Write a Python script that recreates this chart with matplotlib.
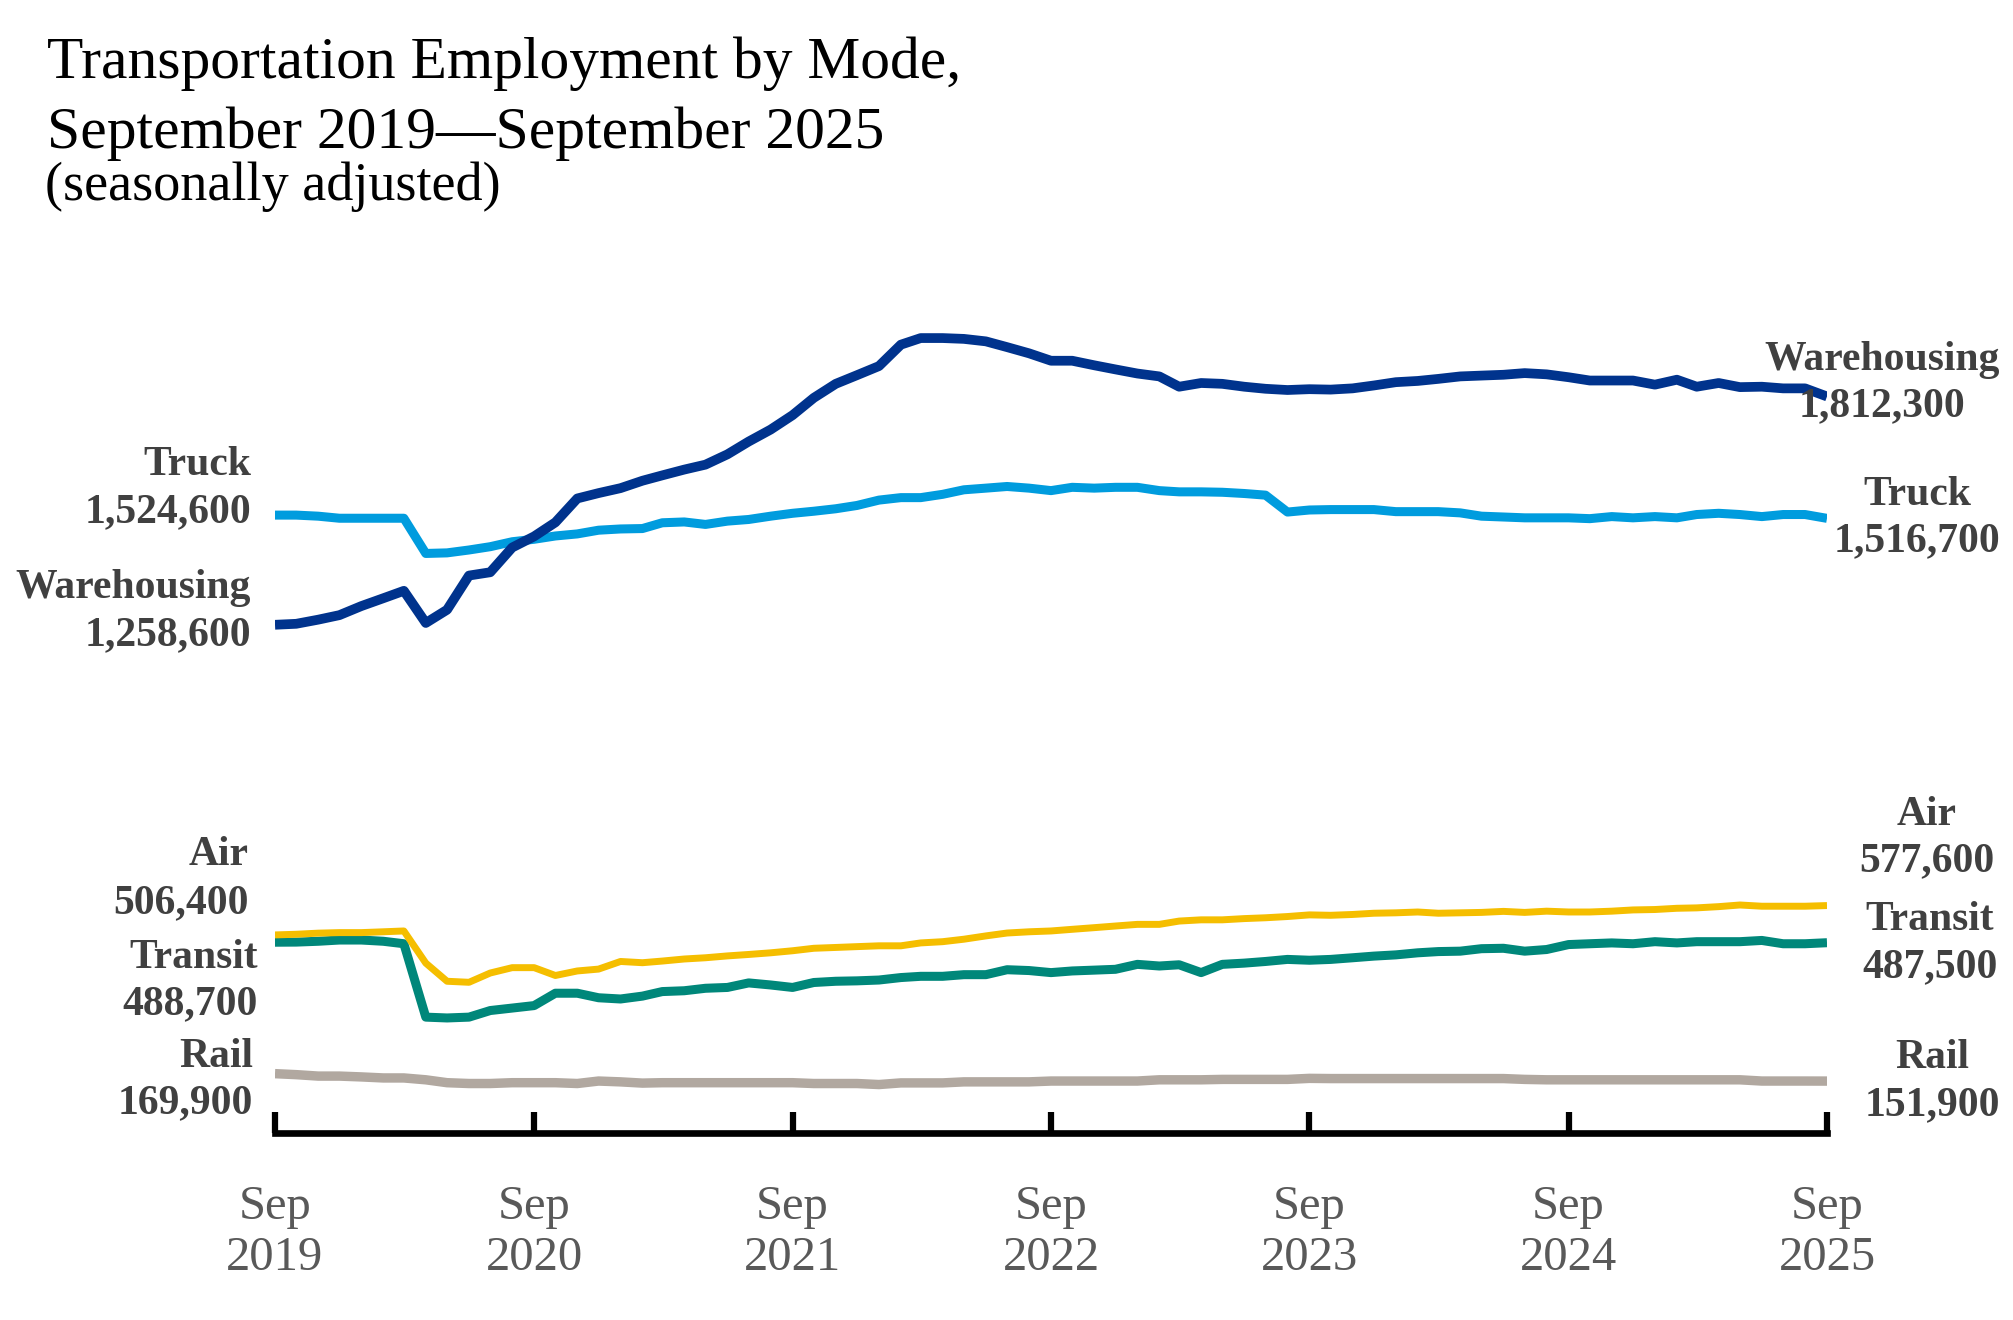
import numpy as np
import pandas as pd
import matplotlib
matplotlib.use("Agg")
import matplotlib.pyplot as plt
import matplotlib.dates as mdates

plt.rcParams['font.family'] = ['Liberation Serif', 'DejaVu Serif']

# monthly employment, thousands, Sep 2019 .. Sep 2025 (seasonally adjusted)
months = pd.date_range("2019-09-01", "2025-09-01", freq="MS")

warehousing = [1258.6, 1261, 1271, 1282, 1304, 1323, 1341, 1263, 1295, 1378, 1386, 1446, 1473,
               1507, 1565, 1578, 1590, 1608, 1621, 1635, 1647, 1672, 1703, 1732, 1767,
               1809, 1843, 1864, 1886, 1938, 1954, 1954, 1952, 1946, 1932, 1917, 1899,
               1899, 1888, 1878, 1868, 1861, 1836, 1845, 1843, 1836, 1831, 1828, 1830,
               1829, 1832, 1839, 1847, 1850, 1855, 1861, 1863, 1865, 1869, 1866, 1859,
               1851, 1851, 1851, 1841, 1853, 1836, 1845, 1835, 1836, 1832, 1832, 1812.3]
truck = [1524.6, 1524.6, 1522, 1517, 1517, 1517, 1517, 1431.6, 1433, 1440, 1448, 1460, 1466,
         1474, 1479, 1488, 1491, 1492, 1506, 1508, 1502, 1510, 1514, 1522, 1529,
         1534, 1540, 1548, 1561, 1567, 1567, 1575, 1586, 1590, 1594, 1590, 1584,
         1592, 1590, 1592, 1592, 1584, 1581, 1581, 1580, 1577, 1573, 1532, 1537,
         1538, 1538, 1538, 1533, 1533, 1533, 1530, 1522, 1520, 1518, 1518, 1518,
         1516, 1521, 1518, 1521, 1518, 1526, 1529, 1526, 1521, 1526, 1526, 1516.7]
air = [506.4, 508, 510.7, 512, 512, 514, 516, 438, 394, 391.5, 414, 427, 427,
       408, 419, 423.5, 442, 439, 443, 448, 451, 455.5, 459, 463, 468,
       474, 476, 478, 480, 480, 487, 490, 496, 504, 511, 514, 516,
       520, 524, 528, 532, 532, 540, 543, 543, 546, 548, 551, 555,
       554, 556, 559, 560, 562, 559, 560, 561, 563.5, 561, 564, 562,
       562, 564, 567, 568, 571, 572, 575, 579, 576, 576, 576, 577.6]
transit = [488.7, 489, 491, 494, 494, 491, 485, 307, 305, 307, 323, 329, 335,
           365, 365, 354, 351, 358, 369, 371, 377, 379, 390, 385, 379,
           391, 394, 395, 397, 403, 406, 406, 410, 410, 422, 420, 415,
           419, 421, 423, 435, 431, 434, 415, 435, 438, 442, 447, 445,
           447, 451, 455, 458, 463, 466, 467, 473, 474, 467, 471, 483,
           485, 487, 485, 490, 487, 490, 490, 490, 493, 485, 485, 487.5]
rail = [169.9, 167.5, 164, 164, 162, 159.5, 159.5, 155, 148, 146, 146, 148, 148,
        148, 146, 152, 150, 147, 148, 148, 148, 148, 148, 148, 148,
        146, 146, 146, 143.5, 147.5, 147.5, 147.5, 150, 150, 150, 150, 152,
        152, 152, 152, 152, 155, 155, 155, 156, 156, 156, 156, 158.5,
        158, 158, 158, 158, 158, 158, 158, 158, 158, 156, 155, 155,
        155, 155, 155, 155, 155, 155, 155, 155, 152, 152, 152, 151.9]

names = ["Rail", "Transit", "Air", "Truck", "Warehousing"]
series = [rail, transit, air, truck, warehousing]
colors = ["#B1A8A0", "#00877A", "#F5BE00", "#009CDE", "#00338D"]
widths = [6.8, 6.5, 5.0, 6.5, 7.0]

# label offsets in points: (dx, dy_name, dy_value) at start / end of each line
left_off = {"Rail": (-15.8, 4.8, -28.8), "Transit": (-12.6, -18.6, -51.8),
            "Air": (-18.7, 50.0, 15.8), "Truck": (-17.3, 28.8, -4.8),
            "Warehousing": (-17.3, 19.3, -14.4)}
right_off = {"Rail": (75.6, 9.4, -24.5), "Transit": (74.2, 9.1, -24.7),
             "Air": (72.0, 58.2, 24.9), "Truck": (64.8, 9.6, -24.0),
             "Warehousing": (39.6, 19.1, -14.4)}

fig = plt.figure(figsize=(20.13, 13.2), dpi=100)
ax = fig.add_axes([0.13661, 0.14136, 0.77099, 0.6169])

for name, vals, c, lw in zip(names, series, colors, widths):
    ax.plot(months, vals, color=c, lw=lw, solid_joinstyle='round', solid_capstyle='butt')

ax.set_xlim(months[0], months[-1])
ax.set_ylim(25, 2000)

lab_style = dict(textcoords='offset points', va='baseline', fontsize=30,
                 fontweight='bold', color='#404040', annotation_clip=False)
for name, vals in zip(names, series):
    dx, dn, dv = left_off[name]
    ax.annotate(name, xy=(months[0], vals[0]), xytext=(dx, dn), ha='right', **lab_style)
    ax.annotate(f"{round(vals[0] * 1000):,}", xy=(months[0], vals[0]), xytext=(dx, dv),
                ha='right', **lab_style)
    dx, dn, dv = right_off[name]
    ax.annotate(name, xy=(months[-1], vals[-1]), xytext=(dx, dn), ha='center', **lab_style)
    ax.annotate(f"{round(vals[-1] * 1000):,}", xy=(months[-1], vals[-1]), xytext=(dx, dv),
                ha='center', **lab_style)

# axes styling: only a heavy baseline with inward ticks at each September
for s in ["top", "left", "right"]:
    ax.spines[s].set_visible(False)
ax.spines["bottom"].set_linewidth(4.8)
ax.spines["bottom"].set_color("black")
ax.set_yticks([])
tick_dates = months[::12]
ax.set_xticks(tick_dates)
ax.set_xticklabels([f"Sep\n{d.year}" for d in tick_dates], fontsize=35, color="#595959",
                   linespacing=1.22)
ax.tick_params(axis='x', direction='in', length=15, width=4.5, pad=37, color='black')

fig.text(0.0235, 1 - 78 / 1320, "Transportation Employment by Mode,", fontsize=42.8, va='baseline')
fig.text(0.0235, 1 - 148 / 1320, "September 2019\u2014September 2025", fontsize=42.8, va='baseline')
fig.text(0.0225, 1 - 200 / 1320, "(seasonally adjusted)", fontsize=39, va='baseline')

fig.savefig("out.png", dpi=100)
